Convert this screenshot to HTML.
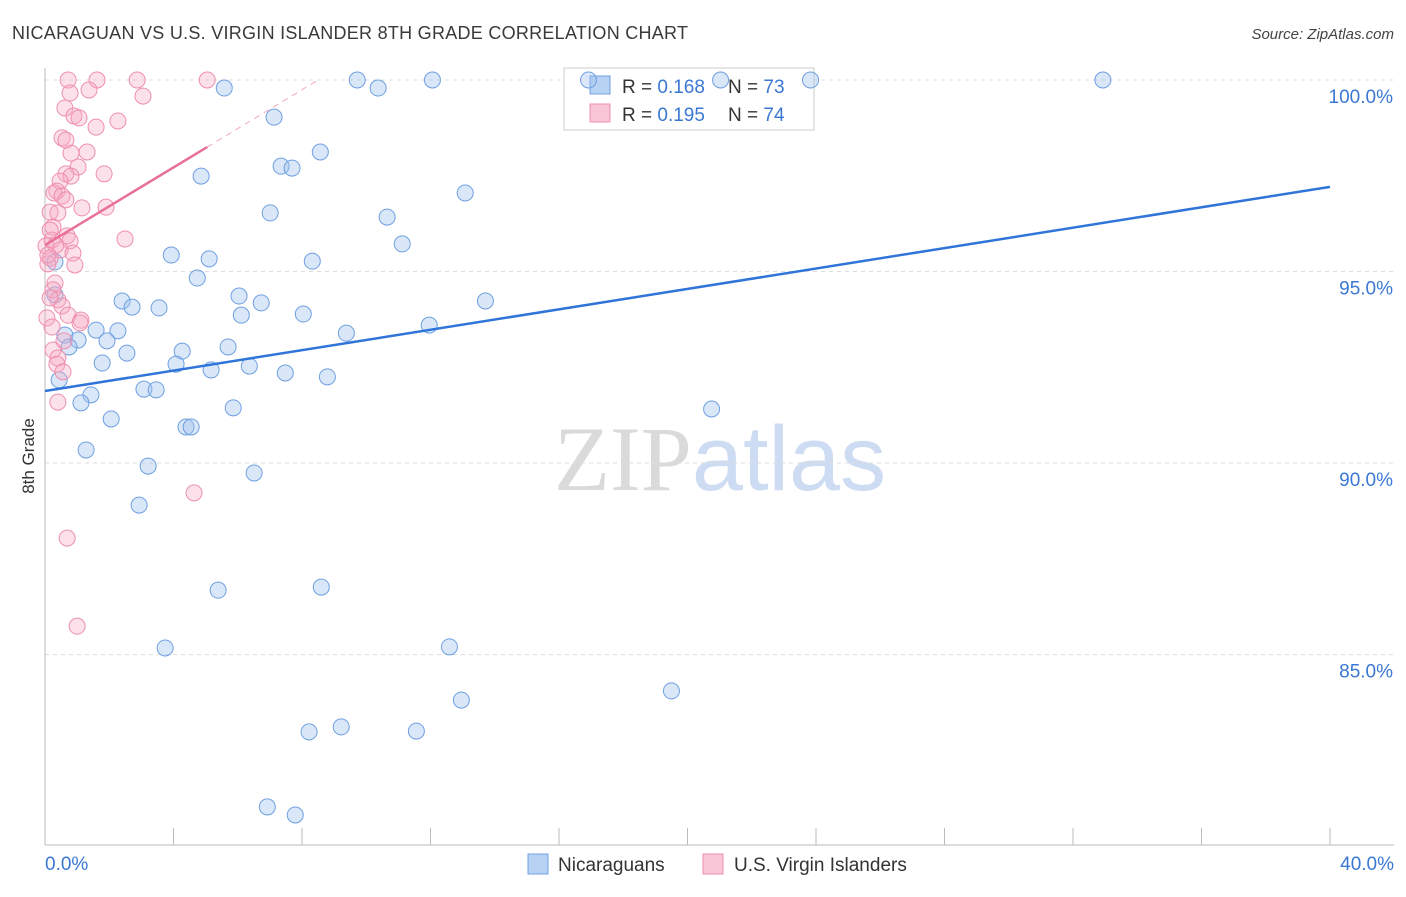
<!DOCTYPE html>
<html><head><meta charset="utf-8"><style>
body{margin:0;background:#fff;font-family:"Liberation Sans",sans-serif;}
svg text{font-family:"Liberation Sans",sans-serif;}
</style></head><body>
<svg id="chart" width="1406" height="892" viewBox="0 0 1406 892" xmlns="http://www.w3.org/2000/svg">
<text x="12" y="39" font-size="18" fill="#3a3a3a" textLength="676">NICARAGUAN VS U.S. VIRGIN ISLANDER 8TH GRADE CORRELATION CHART</text>
<text x="1394" y="39" font-size="15" fill="#444" text-anchor="end" font-style="italic">Source: ZipAtlas.com</text>
<text x="720" y="490" font-size="92" text-anchor="middle"><tspan fill="#dadada" font-family="Liberation Serif">ZIP</tspan><tspan fill="#cddcf2">atlas</tspan></text>
<g id="grid"></g><g id="axes"></g>
<g>
<rect x="564" y="68" width="250" height="62" fill="#fff" stroke="#ccc"/>
<rect x="590" y="76" width="20" height="18" fill="#b8d2f4" stroke="#6fa0e0"/>
<rect x="590" y="104" width="20" height="18" fill="#f8c6d6" stroke="#ee8fae"/>
<text x="622" y="93" font-size="19" fill="#333">R = <tspan fill="#3a78d4">0.168</tspan></text>
<text x="728" y="93" font-size="19" fill="#333">N = <tspan fill="#3a78d4">73</tspan></text>
<text x="622" y="121" font-size="19" fill="#333">R = <tspan fill="#3a78d4">0.195</tspan></text>
<text x="728" y="121" font-size="19" fill="#333">N = <tspan fill="#3a78d4">74</tspan></text>
</g>
<g id="points"></g><g id="trends"></g>
<text transform="translate(34,456) rotate(-90)" font-size="17" fill="#333" text-anchor="middle">8th Grade</text>
<g>
<rect x="528" y="854" width="20" height="20" fill="#b8d2f4" stroke="#6fa0e0"/>
<text x="558" y="871" font-size="19" fill="#333">Nicaraguans</text>
<rect x="703" y="854" width="20" height="20" fill="#f8c6d6" stroke="#ee8fae"/>
<text x="734" y="871" font-size="19" fill="#333">U.S. Virgin Islanders</text>
</g>
</svg>
<script>
const blueX=[5.58,9.72,10.37,12.06,16.92,21.03,23.83,32.93,7.13,8.57,7.35,7.69,4.86,13.08,7.01,10.65,11.12,3.93,5.11,8.32,0.31,4.74,6.04,2.40,6.73,2.71,3.55,6.11,8.04,13.71,11.96,9.38,0.62,1.59,2.27,1.03,0.75,1.93,5.70,2.55,4.27,1.78,4.08,5.17,6.36,7.48,8.79,0.44,3.08,3.46,1.43,1.12,5.86,20.75,2.06,4.39,4.55,1.28,3.21,6.51,2.93,5.39,8.60,3.74,12.59,19.50,12.96,8.22,9.22,11.56,6.92,7.79,0.31];
const blueY=[99.79,100,99.79,100,100,100,100,100,99.03,98.12,97.75,97.70,97.49,97.05,96.53,96.42,95.72,95.43,95.33,95.27,95.25,94.83,94.36,94.23,94.18,94.07,94.05,93.86,93.89,94.23,93.60,93.39,93.34,93.47,93.45,93.21,93.03,93.19,93.03,92.87,92.92,92.61,92.58,92.43,92.53,92.35,92.25,92.17,91.93,91.91,91.78,91.57,91.44,91.41,91.15,90.94,90.94,90.34,89.92,89.74,88.90,86.68,86.76,85.17,85.20,84.05,83.81,82.98,83.11,83.00,81.02,80.81,94.39];
const pinkX=[0.72,1.62,2.87,5.05,1.37,0.78,3.05,0.62,0.90,1.06,2.27,1.59,0.53,0.65,0.81,1.31,1.03,1.84,0.65,0.81,0.47,0.37,0.28,0.53,0.65,1.15,1.90,0.16,0.40,0.25,0.69,0.22,0.78,2.49,0.03,0.47,0.87,0.16,0.09,0.93,0.31,0.25,0.40,0.16,0.53,0.72,0.06,1.12,1.09,0.22,0.59,0.25,0.40,0.37,0.56,0.40,4.64,0.69,1.00,0.16,0.34,0.09];
const pinkY=[100,100,100,100,99.74,99.66,99.58,99.27,99.06,99.01,98.93,98.77,98.49,98.43,98.09,98.12,97.73,97.55,97.55,97.49,97.36,97.10,97.05,96.97,96.87,96.66,96.68,96.55,96.53,96.16,95.93,95.82,95.80,95.85,95.67,95.56,95.48,95.35,95.20,95.17,94.70,94.52,94.26,94.31,94.10,93.86,93.79,93.73,93.66,93.55,93.19,92.95,92.74,92.58,92.38,91.59,89.22,88.04,85.74,96.08,95.69,95.43];
const yTicks=[100,95,90,85];
const yTickLabels=["100.0%","95.0%","90.0%","85.0%"];
const xTicks=[0,4,8,12,16,20,24,28,32,36,40];
const blueTrend=[91.88,97.21];   // y at x=0 and x=40
const pinkTrend=[95.69,0.507];   // intercept, slope
const NS="http://www.w3.org/2000/svg";
const sx=v=>45+v*32.125, sy=v=>80+(100-v)*38.3;
function mk(tag,attrs,parent){const e=document.createElementNS(NS,tag);for(const k in attrs)e.setAttribute(k,attrs[k]);document.getElementById(parent).appendChild(e);return e;}
yTicks.forEach((t,i)=>{
  const l=mk('line',{x1:45,x2:1394,y1:sy(t),y2:sy(t),stroke:'#ddd','stroke-dasharray':'4,4'},'grid');
  
  
  const tx=mk('text',{x:1393,y:sy(t)+23,'font-size':19,fill:'#3a78d4','text-anchor':'end'},'grid');tx.textContent=yTickLabels[i];
  
  
});
mk('line',{x1:45,x2:45,y1:68,y2:845,stroke:'#bbb'},'axes');
mk('line',{x1:45,x2:1394,y1:845,y2:845,stroke:'#bbb'},'axes');
xTicks.forEach(t=>{const l=mk('line',{x1:sx(t),x2:sx(t),y1:828,y2:845,stroke:'#bbb'},'axes');
  
  });
let a=mk('text',{x:45,y:870,'font-size':19,fill:'#3a78d4'},'axes');a.textContent='0.0%';


a=mk('text',{x:1394,y:870,'font-size':19,fill:'#3a78d4','text-anchor':'end'},'axes');a.textContent='40.0%';


blueX.forEach((x,i)=>{const c=mk('circle',{cx:sx(x),cy:sy(blueY[i]),r:8,fill:'rgba(160,195,240,0.4)',stroke:'#6fa0e0','stroke-width':1},'points');
  
  });
pinkX.forEach((x,i)=>{const c=mk('circle',{cx:sx(x),cy:sy(pinkY[i]),r:8,fill:'rgba(245,170,195,0.35)',stroke:'#ee8fae','stroke-width':1},'points');
  
  });
let t=mk('line',{x1:sx(0),y1:sy(blueTrend[0]),x2:sx(40),y2:sy(blueTrend[1]),stroke:'#2f74d8','stroke-width':2.5},'trends');


const pxEnd=5.05, pxDash=(100-pinkTrend[0])/pinkTrend[1];
t=mk('line',{x1:sx(0),y1:sy(pinkTrend[0]),x2:sx(pxEnd),y2:sy(pinkTrend[0]+pinkTrend[1]*pxEnd),stroke:'#e8709a','stroke-width':2.5},'trends');


t=mk('line',{x1:sx(pxEnd),y1:sy(pinkTrend[0]+pinkTrend[1]*pxEnd),x2:sx(pxDash),y2:sy(100),stroke:'#f0a8c0','stroke-width':1,'stroke-dasharray':'6,5'},'trends');


</script>
</body></html>
